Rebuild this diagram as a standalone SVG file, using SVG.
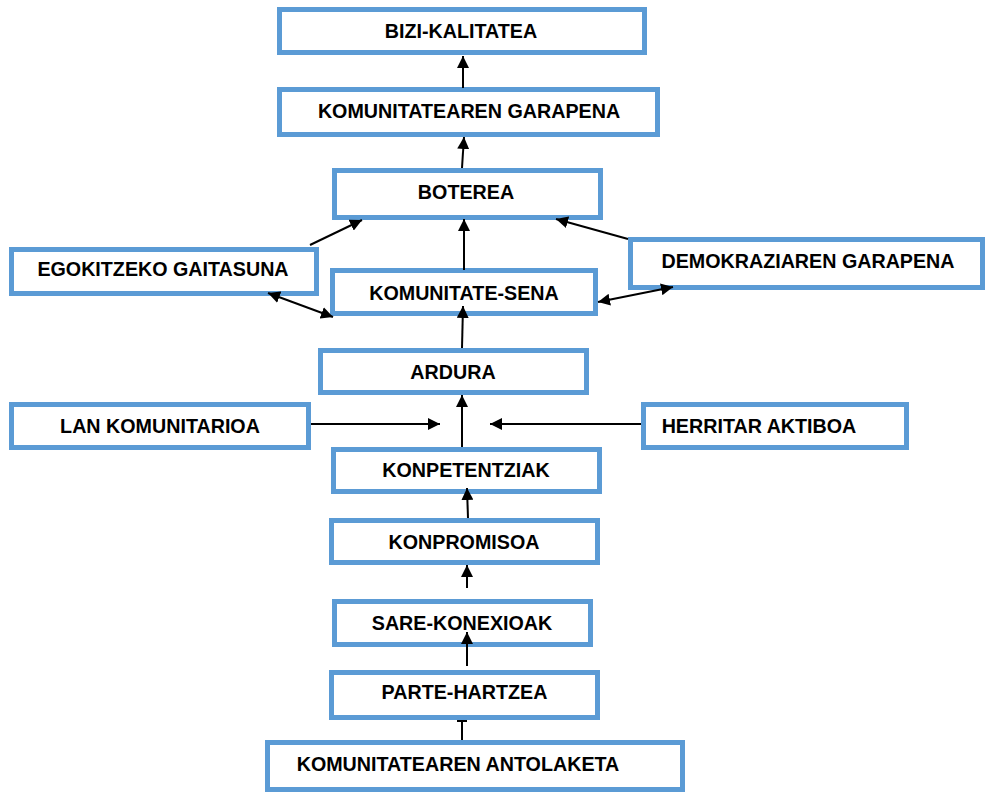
<svg xmlns="http://www.w3.org/2000/svg" width="986" height="792" viewBox="0 0 986 792">
<style>
.box{fill:#fff;stroke:#5B9BD5;stroke-width:5}
.t{font-family:"Liberation Sans",Arial,sans-serif;font-weight:bold;font-size:19.7px;fill:#000;text-anchor:middle}
.c{stroke:#000;stroke-width:2;fill:none}
</style>
<defs>
<marker id="ah" markerUnits="userSpaceOnUse" markerWidth="14" markerHeight="12" refX="12" refY="6" orient="auto-start-reverse">
<path d="M0,0 L12,6 L0,12 Z" fill="#000"/>
</marker>
</defs>
<rect width="986" height="792" fill="#fff"/>
<g id="n-bizi"><rect class="box" x="279.5" y="9.5" width="365" height="43"/><text class="t" x="461" y="38">BIZI-KALITATEA</text></g>
<g id="n-garapena"><rect class="box" x="279.5" y="89.5" width="378" height="45"/><text class="t" x="469" y="118">KOMUNITATEAREN GARAPENA</text></g>
<g id="n-boterea"><rect class="box" x="334.5" y="170.5" width="266" height="47"/><text class="t" x="466" y="199">BOTEREA</text></g>
<g id="n-egokitzeko"><rect class="box" x="11.5" y="249.5" width="305" height="44"/><text class="t" x="163" y="276">EGOKITZEKO GAITASUNA</text></g>
<g id="n-sena"><rect class="box" x="332.5" y="270.5" width="263" height="43"/><text class="t" x="464" y="300">KOMUNITATE-SENA</text></g>
<g id="n-demokrazia"><rect class="box" x="630.5" y="239.5" width="352" height="48"/><text class="t" x="808" y="268">DEMOKRAZIAREN GARAPENA</text></g>
<g id="n-ardura"><rect class="box" x="320.5" y="350.5" width="266" height="42"/><text class="t" x="453" y="379">ARDURA</text></g>
<g id="n-lan"><rect class="box" x="11.5" y="404.5" width="297" height="43"/><text class="t" x="160" y="433">LAN KOMUNITARIOA</text></g>
<g id="n-herritar"><rect class="box" x="643.5" y="404.5" width="263" height="43"/><text class="t" x="759" y="433">HERRITAR AKTIBOA</text></g>
<g id="n-konpetentziak"><rect class="box" x="333.5" y="449.5" width="266" height="42"/><text class="t" x="466" y="477">KONPETENTZIAK</text></g>
<g id="n-konpromisoa"><rect class="box" x="331.5" y="520.5" width="266" height="42"/><text class="t" x="464" y="549">KONPROMISOA</text></g>
<g id="n-sare"><rect class="box" x="334.5" y="601.5" width="256" height="43"/><text class="t" x="462" y="630">SARE-KONEXIOAK</text></g>
<g id="n-parte"><rect class="box" x="331.5" y="672.5" width="266" height="45"/><text class="t" x="464.5" y="699">PARTE-HARTZEA</text></g>
<g id="n-antolaketa"><rect class="box" x="267.5" y="742.5" width="415" height="47"/><text class="t" x="458" y="771">KOMUNITATEAREN ANTOLAKETA</text></g>
<g id="connectors">
<line class="c" x1="463" y1="88" x2="463" y2="56" marker-end="url(#ah)"/>
<line class="c" x1="462" y1="168" x2="464" y2="137" marker-end="url(#ah)"/>
<line class="c" x1="464" y1="270" x2="464" y2="219" marker-end="url(#ah)"/>
<line class="c" x1="310" y1="245" x2="362" y2="220" marker-end="url(#ah)"/>
<line class="c" x1="628" y1="239" x2="556" y2="219" marker-end="url(#ah)"/>
<line class="c" x1="268" y1="293" x2="333" y2="317" marker-start="url(#ah)" marker-end="url(#ah)"/>
<line class="c" x1="598" y1="302" x2="673" y2="287" marker-start="url(#ah)" marker-end="url(#ah)"/>
<line class="c" x1="462" y1="348" x2="463" y2="306" marker-end="url(#ah)"/>
<line class="c" x1="462" y1="447" x2="462" y2="395" marker-end="url(#ah)"/>
<line class="c" x1="311" y1="424" x2="440" y2="424" marker-end="url(#ah)"/>
<line class="c" x1="641" y1="424" x2="490" y2="424" marker-end="url(#ah)"/>
<line class="c" x1="468" y1="518" x2="467" y2="488" marker-end="url(#ah)"/>
<line class="c" x1="467" y1="588" x2="467" y2="565" marker-end="url(#ah)"/>
<line class="c" x1="467" y1="666" x2="467" y2="632" marker-end="url(#ah)"/>
<line class="c" x1="462" y1="740" x2="462" y2="721"/>
<line class="c" x1="457" y1="721" x2="467" y2="721"/>
</g>
</svg>
